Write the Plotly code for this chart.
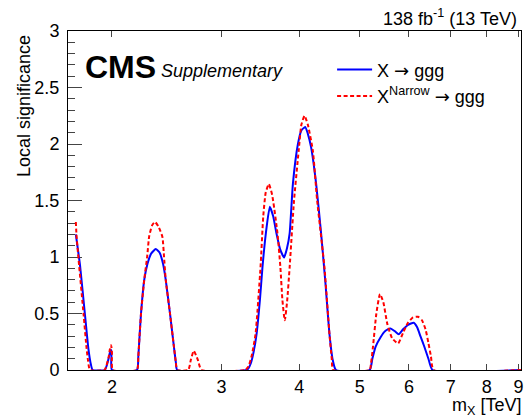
import plotly.graph_objects as go
import math

# ---- data (mass in TeV, local significance) ----
blue_mass = [1.750, 1.762, 1.777, 1.810, 1.833, 1.850, 1.862,
             1.948, 1.962, 1.975, 1.986, 1.992, 1.997, 2.000,
             2.194, 2.205, 2.214, 2.227, 2.254, 2.281, 2.312, 2.352, 2.385, 2.416, 2.440, 2.479, 2.516, 2.533, 2.546,
             3.292, 3.313, 3.343, 3.374, 3.415, 3.457, 3.490, 3.534, 3.586, 3.631, 3.675, 3.725, 3.781, 3.822,
             3.859, 3.906, 3.979, 4.030, 4.087, 4.128, 4.178, 4.256, 4.335, 4.405, 4.471, 4.525, 4.580,
             5.188, 5.240, 5.304, 5.402, 5.496, 5.604, 5.689, 5.778, 5.871, 5.980, 6.106, 6.181, 6.259, 6.351,
             6.447, 6.547, 9.080]
blue_sig = [1.20, 1.08, 0.93, 0.49, 0.19, 0.05, 0.00,
            0.00, 0.04, 0.10, 0.16, 0.18, 0.16, 0.00,
            0.00, 0.12, 0.28, 0.50, 0.80, 0.94, 1.03, 1.07, 1.04, 0.94, 0.80, 0.50, 0.20, 0.07, 0.00,
            0.00, 0.015, 0.06, 0.147, 0.32, 0.62, 0.91, 1.21, 1.444, 1.36, 1.21, 1.07, 0.996, 1.08,
            1.21, 1.65, 2.00, 2.12, 2.15, 2.09, 1.97, 1.65, 1.21, 0.77, 0.32, 0.09, 0.00,
            0.00, 0.10, 0.206, 0.29, 0.345, 0.368, 0.345, 0.316, 0.36, 0.40, 0.418, 0.38, 0.30, 0.206,
            0.10, 0.00, 0.00]

red_mass = [1.750, 1.754, 1.761, 1.771, 1.801, 1.821, 1.831, 1.844,
            1.946, 1.960, 1.975, 1.986, 1.994, 2.000, 2.006,
            2.194, 2.205, 2.214, 2.227, 2.254, 2.278, 2.295, 2.320, 2.346, 2.375, 2.410, 2.425, 2.440, 2.479,
            2.516, 2.533, 2.546,
            2.652, 2.678, 2.707, 2.748, 2.785,
            3.273, 3.313, 3.355, 3.402, 3.465, 3.500, 3.532, 3.573, 3.617, 3.689, 3.729, 3.757, 3.790, 3.822,
            3.859, 3.922, 3.990, 4.030, 4.078, 4.128, 4.205, 4.272, 4.389, 4.471, 4.509, 4.533,
            5.188, 5.212, 5.253, 5.318, 5.390, 5.457, 5.537, 5.639, 5.764, 5.871, 5.980, 6.090, 6.203, 6.295,
            6.379, 6.447, 6.508, 6.572, 9.080]
red_sig = [1.31, 1.20, 1.08, 0.93, 0.49, 0.19, 0.08, 0.00,
           0.00, 0.04, 0.11, 0.19, 0.22, 0.15, 0.00,
           0.00, 0.12, 0.28, 0.50, 0.80, 1.00, 1.18, 1.28, 1.31, 1.27, 1.18, 1.00, 0.80, 0.50,
           0.20, 0.07, 0.00,
           0.00, 0.09, 0.17, 0.09, 0.00,
           0.00, 0.03, 0.13, 0.32, 0.91, 1.36, 1.57, 1.645, 1.55, 1.21, 0.91, 0.62, 0.44, 0.60,
           0.91, 1.50, 1.94, 2.17, 2.25, 2.17, 1.94, 1.50, 0.91, 0.32, 0.10, 0.00,
           0.00, 0.05, 0.21, 0.50, 0.672, 0.60, 0.41, 0.28, 0.236, 0.33, 0.42, 0.465, 0.471, 0.44,
           0.36, 0.24, 0.12, 0.00, 0.00]

x_tickvals = [2, 3, 4, 5, 6, 7, 8, 9]
x_ticktext = ["2", "3", "4", "5", "6", "7", "8", "9"]
x_range = [1.7, 9.08]
y_range = [0, 3]

FONT = "Liberation Sans, Arial, Helvetica, sans-serif"
TICKC = "#444"
ARROW = '<span style="font-family:DejaVu Sans">\u2192</span>'

fig = go.Figure()
fig.add_trace(go.Scatter(x=blue_mass, y=blue_sig, mode="lines",
                         name="X " + ARROW + " ggg",
                         line=dict(color="#0000ff", width=2, shape="spline", smoothing=0.5)))
fig.add_trace(go.Scatter(x=red_mass, y=red_sig, mode="lines",
                         name="X<sup>Narrow</sup> " + ARROW + " ggg",
                         line=dict(color="#ff0000", width=2, dash="4px,2.5px", shape="spline", smoothing=0.5)))

fig.update_layout(
    width=528, height=419,
    margin=dict(l=68, r=4, t=31, b=49),
    paper_bgcolor="white", plot_bgcolor="white",
    font=dict(family=FONT, size=18, color="black"),
    showlegend=True,
    legend=dict(x=0.583, y=0.94, xanchor="left", yanchor="top",
                bgcolor="rgba(0,0,0,0)", font=dict(size=18), itemwidth=35,
                tracegroupgap=0),
    xaxis=dict(type="log", range=[math.log10(x_range[0]), math.log10(x_range[1])],
               tickvals=x_tickvals, ticktext=x_ticktext,
               ticks="inside", ticklen=6, tickcolor=TICKC, tickwidth=1,
               showline=True, linecolor="black", linewidth=1, mirror="ticks",
               showgrid=False, zeroline=False, tickfont=dict(size=18),
               layer="below traces"),
    yaxis=dict(range=y_range, dtick=0.5, tick0=0,
               ticks="inside", ticklen=14, tickcolor=TICKC, tickwidth=1,
               minor=dict(dtick=0.1, ticks="inside", ticklen=7, tickcolor=TICKC, tickwidth=1),
               showline=True, linecolor="black", linewidth=1, mirror=True,
               showgrid=False, zeroline=False, tickfont=dict(size=18),
               ticklabelstandoff=4, layer="below traces"),
    yaxis2=dict(range=y_range, dtick=0.5, tick0=0, overlaying="y", side="right",
                ticks="inside", ticklen=11, tickcolor=TICKC, tickwidth=1,
                minor=dict(dtick=0.1, ticks="inside", ticklen=4, tickcolor=TICKC, tickwidth=1),
                showline=False, showticklabels=False, showgrid=False, zeroline=False,
                layer="below traces"),
    annotations=[
        dict(text="Local significance", xref="paper", yref="paper",
             x=-0.097, y=0.994, xanchor="center", yanchor="top", textangle=-90,
             showarrow=False, font=dict(size=18)),
        dict(text="m<sub>X</sub> [TeV]", xref="paper", yref="paper",
             x=1.0044, y=-0.107, xanchor="right", yanchor="middle",
             showarrow=False, font=dict(size=18)),
        dict(text="138 fb<sup>-1</sup> (13 TeV)", xref="paper", yref="paper",
             x=0.9956, y=1.041, xanchor="right", yanchor="middle",
             showarrow=False, font=dict(size=18)),
        dict(text="<b>CMS</b>", xref="paper", yref="paper",
             x=0.033, y=0.894, xanchor="left", yanchor="middle",
             showarrow=False, font=dict(size=32)),
        dict(text="<i>Supplementary</i>", xref="paper", yref="paper",
             x=0.2018, y=0.882, xanchor="left", yanchor="middle",
             showarrow=False, font=dict(size=18)),
    ],
)

fig.write_html("out.html", config={"displayModeBar": False},
               post_script="document.body.style.margin='0';document.body.style.padding='0';")
